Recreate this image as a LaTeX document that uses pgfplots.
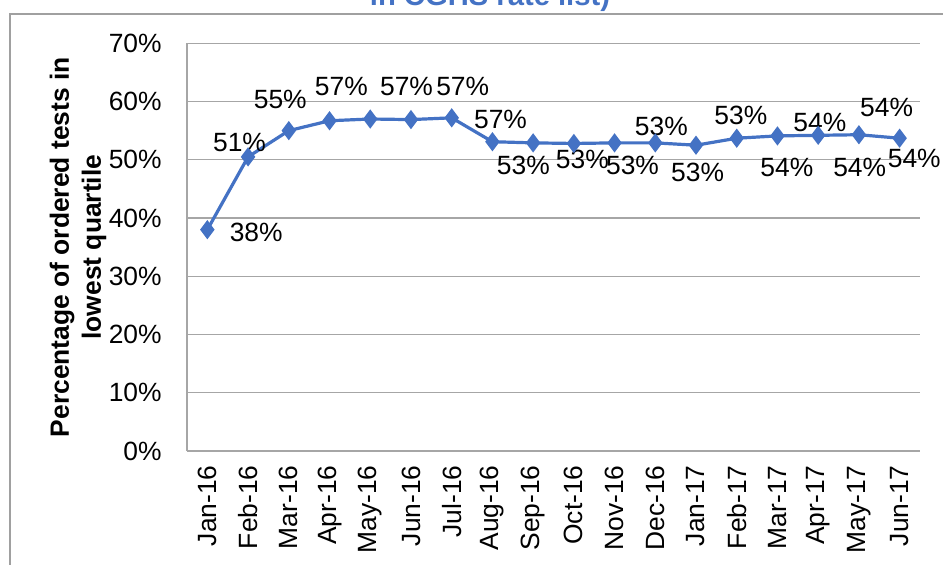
\documentclass[border=0pt]{standalone}
\usepackage{fontspec}
\setmainfont{Liberation Sans}
\usepackage{pgfplots}
\pgfplotsset{compat=1.18}
\definecolor{LINE}{HTML}{4472C4}
\definecolor{GRID}{HTML}{A6A6A6}
\definecolor{FRAME}{HTML}{A0A0A0}

\begin{document}
\begin{tikzpicture}
\begin{axis}[
  scale only axis,
  width=366.5pt,
  height=203.85pt,
  xmin=-0.5, xmax=17.5,
  ymin=0, ymax=70,
  xtick={0,...,17},
  xticklabels={Jan-16,Feb-16,Mar-16,Apr-16,May-16,Jun-16,Jul-16,Aug-16,Sep-16,Oct-16,Nov-16,Dec-16,Jan-17,Feb-17,Mar-17,Apr-17,May-17,Jun-17},
  ytick={0,10,...,70},
  yticklabels={0\%,10\%,20\%,30\%,40\%,50\%,60\%,70\%},
  major tick length=0pt,
  ymajorgrids,
  grid style={draw=GRID, line width=0.6pt},
  axis x line*=bottom,
  axis y line*=left,
  axis line style={draw=GRID, line width=0.6pt},
  tick label style={font=\fontsize{13.2}{15}\selectfont},
  yticklabel style={inner sep=0pt, xshift=-12.5pt},
  xticklabel style={rotate=90, anchor=east, inner sep=7pt},
  ylabel={Percentage of ordered tests in\\lowest quartile},
  ylabel style={font=\bfseries\fontsize{13.2}{16}\selectfont, align=center,
    at={(axis description cs:-0.1487,0.5)}, anchor=center},
  clip=false,
]
\addplot[LINE, line width=1.6pt, mark=diamond*, mark size=3.5pt,
  mark options={fill=LINE, draw=LINE}] coordinates {
(0,38.0) (1,50.5) (2,55.0) (3,56.7) (4,57.0) (5,56.9) (6,57.2) (7,53.1)
(8,52.9) (9,52.8) (10,52.9) (11,52.9) (12,52.5) (13,53.7) (14,54.1)
(15,54.2) (16,54.3) (17,53.7)
};
\begin{scope}[every node/.style={font=\fontsize{13.2}{15}\selectfont, inner sep=0pt}]
\node at (axis cs:1.20,37.6) {38\%};
\node at (axis cs:0.79,52.9) {51\%};
\node at (axis cs:1.79,60.3) {55\%};
\node at (axis cs:3.29,62.5) {57\%};
\node at (axis cs:4.89,62.5) {57\%};
\node at (axis cs:6.27,62.5) {57\%};
\node at (axis cs:7.20,56.9) {57\%};
\node at (axis cs:7.76,49.1) {53\%};
\node at (axis cs:9.21,50.0) {53\%};
\node at (axis cs:10.44,49.0) {53\%};
\node at (axis cs:11.15,55.8) {53\%};
\node at (axis cs:12.04,47.8) {53\%};
\node at (axis cs:13.10,57.7) {53\%};
\node at (axis cs:14.23,48.6) {54\%};
\node at (axis cs:15.04,56.4) {54\%};
\node at (axis cs:16.02,48.6) {54\%};
\node at (axis cs:16.68,58.9) {54\%};
\node at (axis cs:17.36,50.3) {54\%};
\end{scope}
\coordinate (O) at (rel axis cs:0,0);
\end{axis}
% chart frame (cut by the picture's edges)
\draw[FRAME, line width=0.6pt] ([shift={(-88.5pt,-60pt)}]O) -- ([shift={(-88.5pt,218.5pt)}]O) -- ([shift={(385pt,218.5pt)}]O);
% title, only its lower part is visible
\node[font=\bfseries\fontsize{14.6}{17}\selectfont, text=LINE, anchor=base, inner sep=0pt]
  at ([shift={(151.5pt,222.5pt)}]O) {in CGHS rate list)};
\pgfresetboundingbox
\path[use as bounding box] ([shift={(-93.5pt,-57pt)}]O) rectangle ([shift={(378pt,225.5pt)}]O);
\end{tikzpicture}
\end{document}
